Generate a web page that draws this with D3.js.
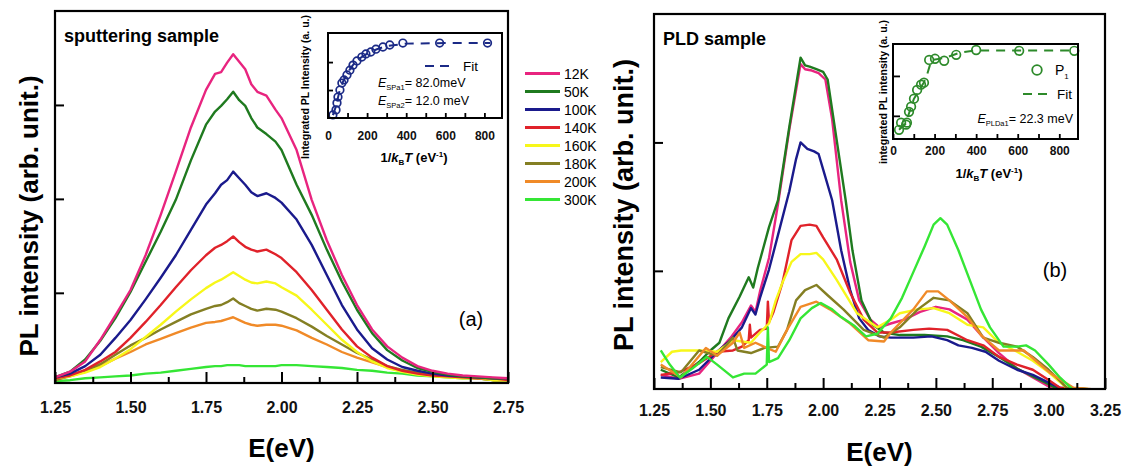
<!DOCTYPE html>
<html>
<head>
<meta charset="utf-8">
<script src="https://cdnjs.cloudflare.com/ajax/libs/d3/7.8.5/d3.min.js"></script>
<style>
  body { margin: 0; background: #fff; }
  text { font-family: "Liberation Sans", Arial, sans-serif; }
</style>
</head>
<body>
<div id="chart"></div>
<script>
// temperatures and colours
const temps = ["12K", "50K", "100K", "140K", "160K", "180K", "200K", "300K"];
const colors = ["#e8247f", "#1f7a1f", "#1a1a8c", "#e0222a", "#f7f71a", "#847f23", "#f08a28", "#35e635"];

// (a) sputtering sample, shared energy grid (eV), intensity in arb. units
const sputE = [1.25,1.30,1.35,1.40,1.45,1.50,1.55,1.60,1.65,1.70,1.75,1.78,1.80,1.82,1.84,1.86,1.88,1.90,1.92,1.95,
  1.98,2.00,2.05,2.10,2.15,2.20,2.25,2.30,2.35,2.40,2.45,2.50,2.55,2.60,2.65,2.70,2.75];
const sput12K = [0.10,0.16,0.27,0.50,0.76,1.03,1.40,1.83,2.29,2.76,3.16,3.33,3.35,3.45,3.54,3.46,3.38,3.22,3.14,3.10,
  2.95,2.86,2.52,1.99,1.56,1.19,0.87,0.61,0.43,0.31,0.22,0.17,0.14,0.12,0.11,0.10,0.09];
const sput50K = [0.10,0.16,0.29,0.49,0.73,1.01,1.33,1.65,1.99,2.41,2.79,2.93,2.99,3.06,3.14,3.05,2.99,2.86,2.76,2.69,
  2.61,2.52,2.15,1.83,1.46,1.12,0.82,0.57,0.39,0.28,0.20,0.16,0.13,0.11,0.10,0.09,0.09];
const sput100K = [0.10,0.14,0.22,0.34,0.52,0.71,0.93,1.16,1.40,1.67,1.94,2.06,2.15,2.20,2.29,2.22,2.15,2.07,2.03,2.06,
  2.01,1.96,1.78,1.51,1.19,0.87,0.61,0.41,0.29,0.21,0.17,0.14,0.12,0.11,0.10,0.09,0.09];
const sput140K = [0.09,0.12,0.18,0.27,0.37,0.52,0.69,0.87,1.06,1.24,1.40,1.48,1.51,1.55,1.60,1.54,1.49,1.46,1.44,1.46,
  1.41,1.37,1.22,1.03,0.82,0.61,0.43,0.31,0.22,0.17,0.14,0.12,0.11,0.10,0.09,0.09,0.07];
const sput160K = [0.09,0.11,0.15,0.21,0.30,0.40,0.53,0.66,0.80,0.93,1.05,1.11,1.14,1.18,1.22,1.18,1.14,1.11,1.10,1.12,
  1.10,1.06,0.97,0.82,0.66,0.50,0.37,0.27,0.20,0.16,0.13,0.11,0.10,0.09,0.09,0.07,0.07];
const sput180K = [0.07,0.12,0.17,0.24,0.34,0.44,0.52,0.61,0.69,0.77,0.83,0.86,0.87,0.90,0.94,0.89,0.86,0.83,0.81,0.83,
  0.82,0.80,0.73,0.64,0.54,0.45,0.36,0.29,0.22,0.18,0.15,0.12,0.11,0.10,0.09,0.07,0.07];
const sput200K = [0.07,0.11,0.16,0.22,0.30,0.37,0.45,0.51,0.57,0.63,0.68,0.69,0.70,0.72,0.74,0.71,0.68,0.66,0.65,0.66,
  0.66,0.65,0.60,0.52,0.45,0.37,0.31,0.26,0.21,0.17,0.14,0.12,0.11,0.10,0.09,0.07,0.07];
const sput300K = [0.06,0.07,0.09,0.10,0.11,0.12,0.14,0.15,0.17,0.19,0.21,0.22,0.22,0.23,0.23,0.23,0.22,0.22,0.22,0.22,
  0.22,0.23,0.23,0.22,0.21,0.20,0.18,0.17,0.15,0.14,0.12,0.11,0.10,0.09,0.09,0.07,0.07];

// (b) PLD sample, [E (eV), intensity]
const pld12K = [[1.28,0.19],[1.36,0.16],[1.45,0.20],[1.53,0.36],[1.59,0.48],[1.64,0.60],[1.68,0.73],[1.70,0.68],[1.72,0.84],
  [1.76,1.10],[1.80,1.52],[1.85,2.10],[1.90,2.61],[1.92,2.57],[1.95,2.56],[1.98,2.54],[2.01,2.49],[2.04,2.18],[2.08,1.55],
  [2.12,1.07],[2.16,0.77],[2.21,0.62],[2.25,0.56],[2.30,0.59],[2.36,0.62],[2.43,0.68],[2.50,0.72],[2.56,0.70],[2.64,0.62],
  [2.70,0.50],[2.78,0.36],[2.86,0.24],[2.93,0.17],[3.00,0.10],[3.05,0.08],[3.25,0.07]];
const pld50K = [[1.28,0.23],[1.36,0.17],[1.45,0.29],[1.50,0.38],[1.54,0.44],[1.58,0.63],[1.63,0.80],[1.67,0.95],[1.69,0.87],
  [1.71,1.02],[1.76,1.34],[1.80,1.55],[1.85,2.12],[1.90,2.66],[1.92,2.60],[1.94,2.59],[1.97,2.57],[2.00,2.55],[2.02,2.49],
  [2.06,2.02],[2.10,1.55],[2.13,1.16],[2.17,0.77],[2.22,0.58],[2.27,0.52],[2.34,0.50],[2.45,0.50],[2.55,0.49],[2.62,0.46],
  [2.70,0.41],[2.78,0.33],[2.86,0.24],[2.95,0.16],[3.03,0.09],[3.08,0.08],[3.25,0.07]];
const pld100K = [[1.28,0.17],[1.36,0.16],[1.45,0.23],[1.53,0.37],[1.59,0.46],[1.64,0.56],[1.68,0.71],[1.70,0.66],[1.72,0.79],
  [1.76,1.01],[1.80,1.28],[1.85,1.62],[1.88,1.87],[1.90,2.00],[1.93,1.95],[1.96,1.93],[1.98,1.91],[2.00,1.79],[2.04,1.55],
  [2.08,1.16],[2.12,0.85],[2.16,0.63],[2.20,0.54],[2.25,0.49],[2.30,0.48],[2.40,0.48],[2.48,0.49],[2.55,0.46],[2.60,0.42],
  [2.66,0.40],[2.72,0.37],[2.78,0.30],[2.86,0.23],[2.93,0.19],[3.00,0.13],[3.05,0.09],[3.25,0.07]];
const pld140K = [[1.28,0.19],[1.36,0.21],[1.45,0.28],[1.53,0.37],[1.60,0.38],[1.64,0.41],[1.67,0.46],[1.675,0.58],[1.68,0.48],
  [1.72,0.54],[1.75,0.55],[1.755,0.76],[1.76,0.60],[1.78,0.68],[1.82,0.91],[1.86,1.24],[1.90,1.35],[1.94,1.36],[1.97,1.35],
  [2.00,1.26],[2.06,1.09],[2.12,0.83],[2.18,0.62],[2.24,0.52],[2.30,0.52],[2.40,0.54],[2.47,0.55],[2.55,0.54],[2.64,0.46],
  [2.71,0.42],[2.78,0.33],[2.86,0.27],[2.93,0.23],[3.00,0.15],[3.05,0.09],[3.25,0.07]];
const pld160K = [[1.28,0.29],[1.33,0.37],[1.37,0.38],[1.45,0.38],[1.53,0.37],[1.60,0.46],[1.68,0.44],[1.72,0.52],[1.76,0.59],
  [1.79,0.77],[1.82,0.91],[1.86,1.07],[1.90,1.13],[1.94,1.13],[1.97,1.14],[2.00,1.09],[2.06,0.93],[2.15,0.67],[2.24,0.56],
  [2.30,0.62],[2.34,0.67],[2.42,0.70],[2.49,0.71],[2.56,0.67],[2.64,0.58],[2.71,0.56],[2.78,0.44],[2.86,0.37],[2.93,0.30],
  [3.00,0.21],[3.08,0.09],[3.25,0.07]];
const pld180K = [[1.28,0.25],[1.37,0.21],[1.45,0.38],[1.53,0.34],[1.60,0.48],[1.62,0.38],[1.68,0.36],[1.74,0.40],[1.80,0.41],
  [1.84,0.54],[1.88,0.77],[1.92,0.85],[1.97,0.89],[2.02,0.81],[2.09,0.70],[2.18,0.54],[2.27,0.48],[2.34,0.56],[2.42,0.70],
  [2.49,0.79],[2.56,0.77],[2.64,0.67],[2.71,0.48],[2.78,0.44],[2.86,0.41],[2.93,0.33],[3.00,0.23],[3.08,0.09],[3.25,0.07]];
const pld200K = [[1.28,0.27],[1.37,0.17],[1.48,0.40],[1.53,0.34],[1.60,0.44],[1.63,0.52],[1.65,0.40],[1.70,0.44],[1.75,0.40],
  [1.79,0.37],[1.84,0.54],[1.90,0.72],[1.97,0.76],[2.03,0.70],[2.12,0.59],[2.20,0.46],[2.27,0.45],[2.30,0.52],[2.40,0.70],
  [2.46,0.84],[2.51,0.84],[2.56,0.77],[2.64,0.64],[2.70,0.50],[2.78,0.38],[2.89,0.38],[3.01,0.20],[3.11,0.09],[3.25,0.07]];
const pld300K = [[1.28,0.38],[1.32,0.27],[1.365,0.17],[1.42,0.24],[1.485,0.33],[1.53,0.27],[1.60,0.17],[1.65,0.20],[1.70,0.20],
  [1.75,0.27],[1.755,0.56],[1.76,0.29],[1.80,0.32],[1.85,0.46],[1.90,0.63],[1.95,0.71],[1.99,0.75],[2.04,0.70],[2.08,0.64],
  [2.14,0.57],[2.19,0.49],[2.24,0.51],[2.30,0.63],[2.35,0.79],[2.40,0.99],[2.45,1.19],[2.49,1.36],[2.52,1.41],[2.55,1.36],
  [2.60,1.16],[2.65,0.93],[2.70,0.70],[2.74,0.56],[2.80,0.41],[2.86,0.41],[2.90,0.42],[2.94,0.38],[3.00,0.27],[3.05,0.17],
  [3.11,0.07],[3.25,0.07]];

// insets: integrated PL intensity vs 1/kBT (eV^-1)
const spInvKT = [25, 41, 46, 51, 61, 71, 82, 97, 112, 128, 148, 173, 194, 219, 245, 281, 316, 383, 571, 816];
const spInt = [0.11, 0.29, 0.54, 0.75, 1.00, 1.25, 1.36, 1.54, 1.71, 1.89, 2.04, 2.18, 2.29, 2.36, 2.46, 2.54, 2.61, 2.68, 2.68, 2.68];
const spFitX = [25, 40, 60, 80, 100, 130, 160, 200, 250, 300, 400, 600, 830];
const spFitY = [0.10, 0.40, 1.00, 1.35, 1.62, 1.92, 2.12, 2.30, 2.46, 2.57, 2.66, 2.68, 2.68];
const pldInvKT = [29, 39, 63, 67, 77, 87, 101, 116, 135, 149, 174, 202, 246, 304, 400, 607, 872];
const pldInt = [0.65, 0.83, 0.78, 0.83, 1.10, 1.23, 1.43, 1.65, 1.78, 1.83, 2.40, 2.43, 2.38, 2.53, 2.65, 2.63, 2.63];
const pldFitX = [29, 60, 100, 150, 165, 185, 250, 320, 400, 872];
const pldFitY = [0.65, 0.80, 1.42, 1.85, 2.05, 2.40, 2.45, 2.58, 2.64, 2.64];

const W = 1126, H = 468;
const svg = d3.select("#chart").append("svg").attr("width", W).attr("height", H);

function mainPanel(o) {
  const x = d3.scaleLinear().domain(o.xDomain).range([o.left, o.right]);
  const y = d3.scaleLinear().domain(o.yDomain).range([o.bottom, o.top]);
  const g = svg.append("g");
  const clipId = "clip" + o.id;
  g.append("clipPath").attr("id", clipId).append("rect")
    .attr("x", o.left).attr("y", o.top).attr("width", o.right - o.left).attr("height", o.bottom - o.top);

  const line = d3.line().x(d => x(d[0])).y(d => y(d[1]));
  const order = o.reverse ? o.series.map((s, i) => i).reverse() : o.series.map((s, i) => i);
  g.append("g").attr("clip-path", "url(#" + clipId + ")")
    .selectAll("path").data(order).enter().append("path")
      .attr("d", i => line(o.series[i]))
      .attr("fill", "none")
      .attr("stroke", i => colors[i])
      .attr("stroke-width", 2.4)
      .attr("stroke-linejoin", "round");

  // x axis, ticks pointing inward
  const xa = g.append("g").attr("transform", "translate(0," + o.bottom + ")")
    .call(d3.axisBottom(x).tickValues(o.xTicks).tickSize(-11).tickPadding(o.pad).tickFormat(d3.format(".2f")));
  xa.select(".domain").remove();
  xa.selectAll("line").attr("stroke-width", 2);
  xa.selectAll("text").attr("font-size", 16).attr("font-weight", "bold")
    .attr("font-family", "'Liberation Sans', Arial, sans-serif").attr("fill", "#111");
  const xm = g.append("g").attr("transform", "translate(0," + o.bottom + ")")
    .call(d3.axisBottom(x).tickValues(o.xMinor).tickSize(-6).tickFormat(""));
  xm.select(".domain").remove();
  xm.selectAll("line").attr("stroke-width", 2);

  const ya = g.append("g").attr("transform", "translate(" + o.left + ",0)")
    .call(d3.axisLeft(y).tickValues(o.yTicks).tickSize(-9).tickFormat(""));
  ya.select(".domain").remove();
  ya.selectAll("line").attr("stroke-width", 2);

  g.append("rect").attr("x", o.left).attr("y", o.top)
    .attr("width", o.right - o.left).attr("height", o.bottom - o.top)
    .attr("fill", "none").attr("stroke", "#000").attr("stroke-width", 2.2);

  g.append("text").attr("x", (o.left + o.right) / 2).attr("y", o.xTitleY)
    .attr("text-anchor", "middle").attr("font-size", 26).attr("font-weight", "bold").text("E(eV)");
  g.append("text").attr("transform", "translate(" + o.yTitleX + "," + o.yTitleY + ") rotate(-90)")
    .attr("text-anchor", "middle").attr("font-size", o.yTitleSize).attr("font-weight", "bold")
    .text("PL intensity (arb. unit.)");
  g.append("text").attr("x", o.left + 9).attr("y", o.top + 31)
    .attr("font-size", 18).attr("font-weight", "bold").text(o.name);
  g.append("text").attr("x", o.tagX).attr("y", o.tagY)
    .attr("text-anchor", "middle").attr("font-size", 20).text(o.tag);
}

function xTitle(g, cx, cy) {
  const t = g.append("text").attr("x", cx).attr("y", cy).attr("text-anchor", "middle")
    .attr("font-size", 13).attr("font-weight", "bold");
  t.append("tspan").text("1/");
  t.append("tspan").attr("font-style", "italic").text("k");
  t.append("tspan").attr("font-size", 8).attr("dy", 3).text("B");
  t.append("tspan").attr("font-style", "italic").attr("dy", -3).text("T");
  t.append("tspan").text(" (eV");
  t.append("tspan").attr("font-size", 8).attr("dy", -5).text("-1");
  t.append("tspan").attr("dy", 5).text(")");
}

function eLabel(g, x, y, sub, rest, anchor) {
  const t = g.append("text").attr("x", x).attr("y", y).attr("font-size", 12.5).attr("text-anchor", anchor || "start");
  t.append("tspan").attr("font-style", "italic").text("E");
  t.append("tspan").attr("font-size", 7.5).attr("dy", 3).text(sub);
  t.append("tspan").attr("dy", -3).text(rest);
}

function inset(o) {
  const x = d3.scaleLinear().domain([0, 890]).range([o.left, o.right]);
  const y = d3.scaleLinear().domain(o.yDomain).range([o.bottom, o.top]);
  const g = svg.append("g");

  const fit = d3.zip(o.fitX, o.fitY);
  g.append("path").attr("d", d3.line().x(d => x(d[0])).y(d => y(d[1]))(fit))
    .attr("fill", "none").attr("stroke", o.color).attr("stroke-width", 2).attr("stroke-dasharray", "9,7");
  g.selectAll("circle.pt").data(d3.zip(o.px, o.py)).enter().append("circle")
    .attr("class", "pt").attr("cx", d => x(d[0])).attr("cy", d => y(d[1])).attr("r", o.r)
    .attr("fill", "none").attr("stroke", o.color).attr("stroke-width", 1.7);

  const xa = g.append("g").attr("transform", "translate(0," + o.bottom + ")")
    .call(d3.axisBottom(x).tickValues([0, 100, 200, 300, 400, 500, 600, 700, 800]).tickSize(-5).tickPadding(o.pad)
      .tickFormat(d => d % 200 === 0 ? d : ""));
  xa.select(".domain").remove();
  xa.selectAll("line").attr("stroke-width", 1.8);
  xa.selectAll("text").attr("font-size", 12).attr("font-weight", "bold")
    .attr("font-family", "'Liberation Sans', Arial, sans-serif").attr("fill", "#111");
  const ya = g.append("g").attr("transform", "translate(" + o.left + ",0)")
    .call(d3.axisLeft(y).tickValues([1, 2]).tickSize(-o.ytick).tickFormat(""));
  ya.select(".domain").remove();
  ya.selectAll("line").attr("stroke-width", 1.8);

  g.append("rect").attr("x", o.left).attr("y", o.top)
    .attr("width", o.right - o.left).attr("height", o.bottom - o.top)
    .attr("fill", "none").attr("stroke", "#000").attr("stroke-width", 2);

  xTitle(g, o.xtX, o.xtY);
  g.append("text").attr("transform", "translate(" + o.ytX + "," + o.ytY + ") rotate(-90)")
    .attr("text-anchor", "middle").attr("font-size", 10.5).attr("font-weight", "bold").text(o.yTitle);
  return g;
}

// (a)
mainPanel({
  id: "a", left: 55, right: 508, top: 11, bottom: 383,
  xDomain: [1.25, 2.75], yDomain: [0.04, 4.0],
  xTicks: [1.25, 1.50, 1.75, 2.00, 2.25, 2.50, 2.75],
  xMinor: [1.375, 1.625, 1.875, 2.125, 2.375, 2.625],
  yTicks: [1, 2, 3], pad: 19,
  series: [sput12K, sput50K, sput100K, sput140K, sput160K, sput180K, sput200K, sput300K].map(v => d3.zip(sputE, v)),
  reverse: true,
  xTitleY: 457, yTitleX: 38, yTitleY: 216, yTitleSize: 26,
  name: "sputtering sample", tag: "(a)", tagX: 471, tagY: 326
});

// (b)
mainPanel({
  id: "b", left: 654, right: 1105, top: 14, bottom: 389,
  xDomain: [1.25, 3.25], yDomain: [0.08, 3.0],
  xTicks: [1.25, 1.50, 1.75, 2.00, 2.25, 2.50, 2.75, 3.00, 3.25],
  xMinor: [1.375, 1.625, 1.875, 2.125, 2.375, 2.625, 2.875, 3.125],
  yTicks: [1, 2], pad: 16,
  series: [pld12K, pld50K, pld100K, pld140K, pld160K, pld180K, pld200K, pld300K],
  reverse: false,
  xTitleY: 461, yTitleX: 633, yTitleY: 205, yTitleSize: 27,
  name: "PLD sample", tag: "(b)", tagX: 1055, tagY: 277
});

// legend
const leg = svg.append("g");
temps.forEach((t, i) => {
  const cy = 73.5 + i * 18;
  leg.append("line").attr("x1", 525).attr("x2", 560).attr("y1", cy).attr("y2", cy)
    .attr("stroke", colors[i]).attr("stroke-width", 3);
  leg.append("text").attr("x", 564).attr("y", cy + 5).attr("font-size", 14).text(t);
});

// inset (a)
const navy = "#1b2a86";
const ia = inset({
  left: 328, right: 502, top: 33, bottom: 118, yDomain: [0, 3.04],
  px: spInvKT, py: spInt, fitX: spFitX, fitY: spFitY, color: navy, r: 3.8, pad: 13, ytick: 5,
  xtX: 414, xtY: 162, ytX: 309, ytY: 87, yTitle: "Integrated PL Intensity (a. u.)"
});
ia.append("line").attr("x1", 425).attr("x2", 455).attr("y1", 66).attr("y2", 66)
  .attr("stroke", navy).attr("stroke-width", 2).attr("stroke-dasharray", "9,6");
ia.append("text").attr("x", 463).attr("y", 71).attr("font-size", 13.5).text("Fit");
eLabel(ia, 378, 87, "SPa1", "= 82.0meV");
eLabel(ia, 378, 105, "SPa2", "= 12.0 meV");

// inset (b)
const grn = "#2d8a2a";
const ib = inset({
  left: 893, right: 1078, top: 44, bottom: 139, yDomain: [0.42, 2.8],
  px: pldInvKT, py: pldInt, fitX: pldFitX, fitY: pldFitY, color: grn, r: 4.3, pad: 7, ytick: 7,
  xtX: 989, xtY: 178, ytX: 887, ytY: 92, yTitle: "integrated PL intensity (a. u.)"
});
ib.append("circle").attr("cx", 1037).attr("cy", 70).attr("r", 4.8)
  .attr("fill", "none").attr("stroke", grn).attr("stroke-width", 1.8);
const p1 = ib.append("text").attr("x", 1055).attr("y", 75).attr("font-size", 14);
p1.append("tspan").text("P");
p1.append("tspan").attr("font-size", 8).attr("dy", 4).text("1");
ib.append("line").attr("x1", 1023).attr("x2", 1049).attr("y1", 94).attr("y2", 94)
  .attr("stroke", grn).attr("stroke-width", 2.2).attr("stroke-dasharray", "9,6");
ib.append("text").attr("x", 1057).attr("y", 99).attr("font-size", 13.5).text("Fit");
eLabel(ib, 1073, 123, "PLDa1", "= 22.3 meV", "end");
</script>
</body>
</html>
